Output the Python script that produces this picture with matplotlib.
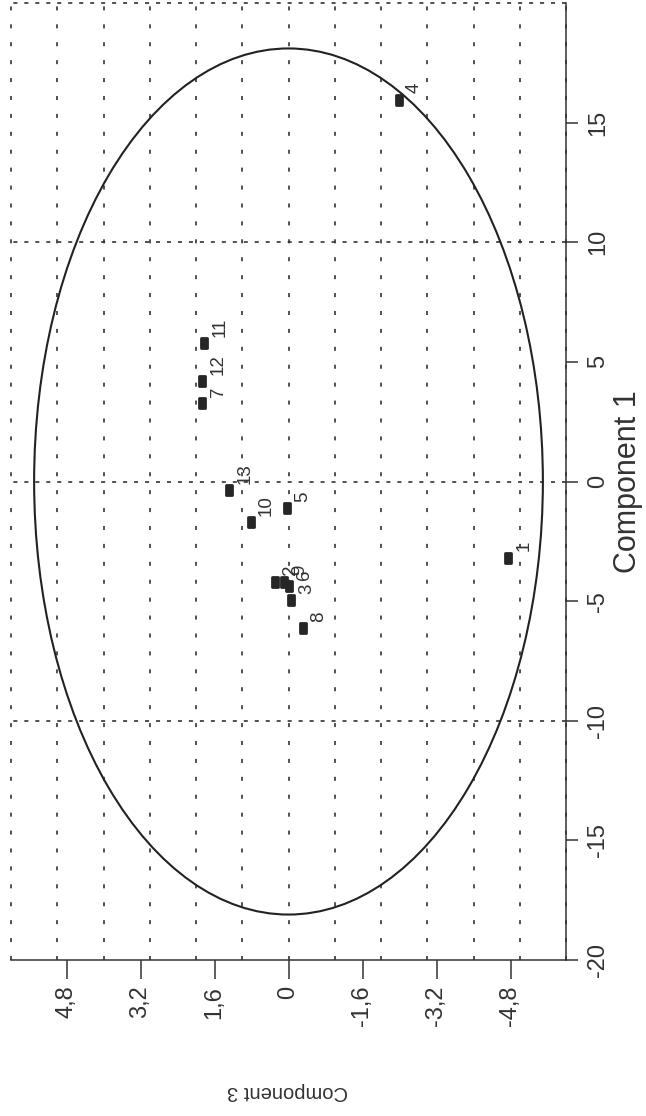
import numpy as np
import matplotlib
matplotlib.use("Agg")
import matplotlib.pyplot as plt
from matplotlib.patches import Ellipse
from matplotlib.path import Path
from matplotlib.markers import MarkerStyle

plt.rcParams['font.family'] = ['Liberation Sans', 'DejaVu Sans']
plt.rcParams['lines.scale_dashes'] = False

# ---- data (Component 1 runs vertically, Component 3 horizontally, chart rotated) ----
point_labels = ['1', '2', '3', '4', '5', '6', '7', '8', '9', '10', '11', '12', '13']
component1 = [-3.18, -4.19, -4.96, 15.96, -1.10, -4.36, 3.28, -6.12, -4.19, -1.69, 5.79, 4.21, -0.36]
component3 = [-4.74, 0.30, -0.06, -2.38, 0.03, -0.01, 1.86, -0.31, 0.10, 0.82, 1.82, 1.86, 1.29]

comp1_ticks = [-20, -15, -10, -5, 0, 5, 10, 15]
comp1_grid = [-10, 0, 10, 20]
comp3_ticks = [4.8, 3.2, 1.6, 0.0, -1.6, -3.2, -4.8]
comp3_grid = list(range(-6, 7))
comp1_limits = (-20, 20)
comp3_limits = (6, -6)

ellipse_center = (0.0, 0.0)
ellipse_semi_comp3 = 5.5
ellipse_semi_comp1 = 18.1

def fmt(v):
    s = ('%g' % v).replace('.', ',')
    return '0' if s in ('0', '-0') else s

comp3_ticklabels = [fmt(v) for v in comp3_ticks]
comp1_ticklabels = [fmt(v) for v in comp1_ticks]

C = '#333333'

fig = plt.figure(figsize=(6.46, 11.16), dpi=100)
W, H = 646, 1116
ax = fig.add_axes([11 / W, 1 - 960 / H, (566 - 11) / W, (960 - 3) / H])
ax.set_xlim(*comp3_limits)
ax.set_ylim(*comp1_limits)

# grid
ax.vlines(comp3_grid, comp1_limits[0], comp1_limits[1], colors=C, linewidth=1.2,
          linestyles=[(0, (2.9, 10.0))], zorder=1, clip_on=False)
ax.hlines(comp1_grid, comp3_limits[1], comp3_limits[0], colors=C, linewidth=1.2,
          linestyles=[(0, (2.9, 5.0))], zorder=1, clip_on=False)

# ellipse
ell = Ellipse(ellipse_center, width=2 * ellipse_semi_comp3, height=2 * ellipse_semi_comp1,
              fill=False, edgecolor='#222222', linewidth=1.5, zorder=2)
ax.add_patch(ell)

# markers (rounded rectangle, taller than wide)
verts = [(-0.28, -0.5), (0.28, -0.5), (0.28, 0.5), (-0.28, 0.5), (-0.28, -0.5)]
rect = Path(verts, [Path.MOVETO, Path.LINETO, Path.LINETO, Path.LINETO, Path.CLOSEPOLY])
mstyle = MarkerStyle(rect, joinstyle='round')
ax.plot(component3, component1, linestyle='none', marker=mstyle, markersize=6.5,
        markerfacecolor='#262626', markeredgecolor='#262626', markeredgewidth=2.0, zorder=3)

for lab, c3, c1 in zip(point_labels, component3, component1):
    ax.annotate(lab, (c3, c1), xytext=(11.5, 4.5), textcoords='offset points',
                rotation=90, ha='center', va='bottom', fontsize=13.5, color=C, zorder=4)

# spines
for s in ['left', 'top']:
    ax.spines[s].set_visible(False)
for s in ['right', 'bottom']:
    ax.spines[s].set_color(C)
    ax.spines[s].set_linewidth(1.1)

ax.yaxis.tick_right()
ax.set_yticks(comp1_ticks)
ax.set_yticklabels(comp1_ticklabels, rotation=90, va='center', fontsize=17, color=C)
ax.tick_params(axis='y', length=8.6, width=1.1, pad=6.5, direction='out', colors=C)

ax.set_xticks(comp3_ticks)
ax.set_xticklabels(comp3_ticklabels, rotation=90, ha='center', va='top', fontsize=17, color=C)
ax.tick_params(axis='x', length=13.5, width=1.1, pad=5, direction='out', colors=C)

ax.yaxis.set_label_position('right')
ax.set_ylabel('Component 1', rotation=90, fontsize=22, color=C, va='center', ha='center')
ax.yaxis.set_label_coords((628 - 11) / 555, 0.5)

ax.set_xlabel('Component 3', rotation=180, fontsize=14.5, color=C, va='center', ha='center')
ax.xaxis.set_label_coords((287 - 11) / 555, (960 - 1092) / 957)

fig.savefig('out.png', dpi=100)
